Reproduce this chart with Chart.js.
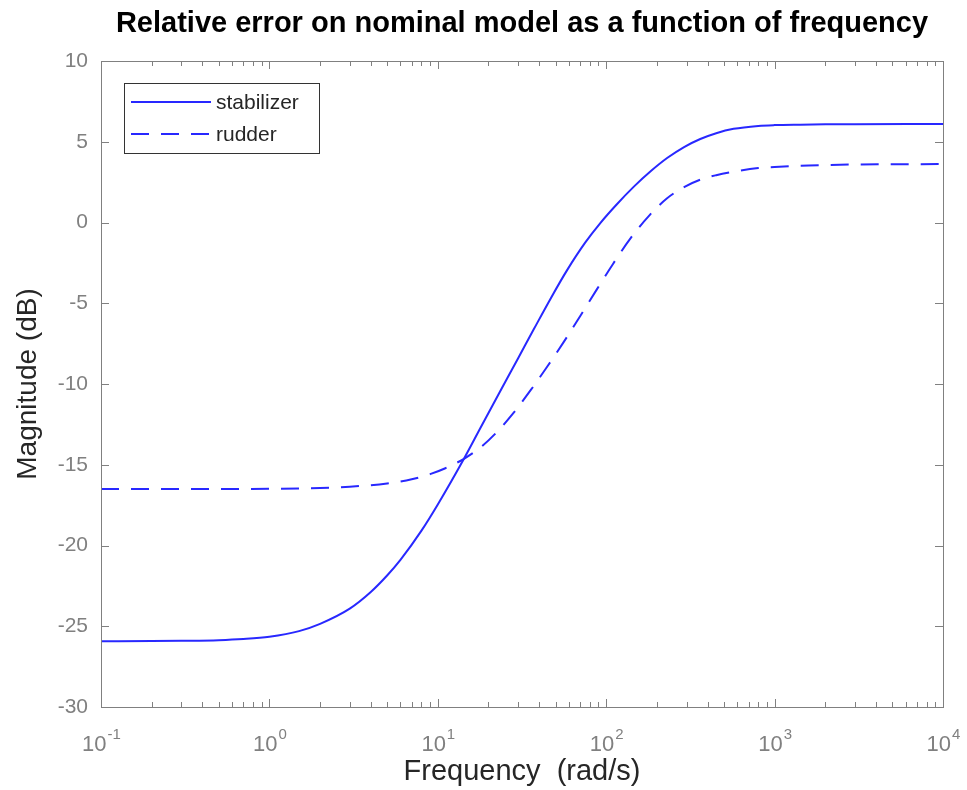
<!DOCTYPE html>
<html>
<head>
    <title>Relative error on nominal model</title>
    <meta charset="utf-8">
    <script src="https://cdn.jsdelivr.net/npm/chart.js"></script>
    <style>
        html, body { margin: 0; padding: 0; background: #fff; }
        .box { width: 967px; height: 790px; }
    </style>
</head>
<body>
<div class="box">
    <canvas id="errChart" width="967" height="790"></canvas>
</div>
<script>
    // values
    const freqStab = [0.1, 0.2, 0.3, 0.5, 0.7, 1, 1.5, 2, 3, 4, 5, 6, 8, 10, 14.3, 18, 23.6, 30, 37.2, 47, 58.6, 75, 92.5, 115, 146, 185, 230, 290, 362, 450, 571, 800, 1000, 1420, 2000, 3000, 10000];
    const magStab  = [-25.93, -25.92, -25.9, -25.86, -25.79, -25.65, -25.3, -24.85, -23.91, -22.88, -21.86, -20.89, -19.08, -17.46, -14.63, -12.68, -10.4, -8.4, -6.6, -4.67, -2.95, -1.25, -0.02, 1.1, 2.22, 3.2, 3.99, 4.67, 5.17, 5.53, 5.8, 5.98, 6.03, 6.06, 6.08, 6.09, 6.1];

    const freqRud = [0.1, 0.3, 0.5, 1, 2, 3, 5, 7, 9, 11, 14.3, 18, 22.5, 28, 35.5, 45, 56, 70, 88, 110, 139, 180, 230, 290, 362, 450, 571, 800, 1000, 1420, 2000, 3000, 10000];
    const magRud  = [-16.5, -16.5, -16.5, -16.49, -16.44, -16.36, -16.16, -15.9, -15.58, -15.23, -14.63, -13.91, -12.96, -11.82, -10.4, -8.87, -7.39, -5.8, -4.14, -2.55, -1.0, 0.43, 1.5, 2.19, 2.65, 2.93, 3.15, 3.37, 3.44, 3.52, 3.56, 3.59, 3.62];

    const seriesNames = ['stabilizer', 'rudder'];
    const yTicks = [-30, -25, -20, -15, -10, -5, 0, 5, 10];
    const xDecades = [0.1, 1, 10, 100, 1000, 10000];
    const xExponents = ['-1', '0', '1', '2', '3', '4'];

    const axisGray = '#808080';
    const lineBlue = 'rgb(40, 40, 255)';
    const fontFam = '"Liberation Sans", Arial, sans-serif';

    function toPoints(xs, ys) {
        return xs.map((x, i) => ({ x: x, y: ys[i] }));
    }

    // minor + major log ticks
    function logTicks() {
        const out = [];
        xDecades.forEach((d, i) => {
            if (i === xDecades.length - 1) { out.push({ value: d }); return; }
            for (let k = 1; k <= 9; k++) out.push({ value: +(d * k).toPrecision(3) });
        });
        return out;
    }

    // box, inside tick marks, 10^n labels, title and legend like the original figure
    const matlabAxes = {
        id: 'matlabAxes',
        afterDraw(chart) {
            const ctx = chart.ctx;
            const a = chart.chartArea;
            const xs = chart.scales.x, ys = chart.scales.y;
            ctx.save();
            ctx.strokeStyle = axisGray;
            ctx.lineWidth = 1;
            ctx.beginPath();
            xs.ticks.forEach(t => {
                const px = Math.round(xs.getPixelForValue(t.value)) + 0.5;
                const len = xDecades.includes(t.value) ? 8 : 5;
                ctx.moveTo(px, a.bottom); ctx.lineTo(px, a.bottom - len);
                ctx.moveTo(px, a.top); ctx.lineTo(px, a.top + len);
            });
            ys.ticks.forEach(t => {
                const py = Math.round(ys.getPixelForValue(t.value)) + 0.5;
                ctx.moveTo(a.left, py); ctx.lineTo(a.left + 8, py);
                ctx.moveTo(a.right, py); ctx.lineTo(a.right - 8, py);
            });
            ctx.stroke();
            ctx.strokeRect(Math.round(a.left) + 0.5, Math.round(a.top) + 0.5, Math.round(a.right - a.left), Math.round(a.bottom - a.top));

            // decade labels with raised exponent
            ctx.fillStyle = axisGray;
            ctx.textBaseline = 'alphabetic';
            ctx.textAlign = 'left';
            xDecades.forEach((d, i) => {
                const px = xs.getPixelForValue(d);
                ctx.font = '22px ' + fontFam;
                const wBase = ctx.measureText('10').width;
                ctx.font = '15px ' + fontFam;
                const wExp = ctx.measureText(xExponents[i]).width;
                const x0 = px - (wBase + wExp) / 2;
                ctx.font = '22px ' + fontFam;
                ctx.fillText('10', x0, a.bottom + 44);
                ctx.font = '15px ' + fontFam;
                ctx.fillText(xExponents[i], x0 + wBase + 1, a.bottom + 32);
            });

            // title
            ctx.fillStyle = '#000';
            ctx.font = 'bold 29px ' + fontFam;
            ctx.textAlign = 'center';
            ctx.textBaseline = 'middle';
            ctx.fillText('Relative error on nominal model as a function of frequency', (a.left + a.right) / 2, 24);

            // legend
            const lx = 124, ly = 83, lw = 195, lh = 70;
            ctx.fillStyle = '#fff';
            ctx.fillRect(lx, ly, lw, lh);
            ctx.strokeStyle = '#333';
            ctx.lineWidth = 1;
            ctx.strokeRect(lx + 0.5, ly + 0.5, lw, lh);
            ctx.font = '21px ' + fontFam;
            ctx.textAlign = 'left';
            chart.data.datasets.forEach((ds, i) => {
                const yy = ly + 19 + i * 32;
                ctx.strokeStyle = ds.borderColor;
                ctx.lineWidth = ds.borderWidth;
                ctx.setLineDash(ds.borderDash || []);
                ctx.beginPath();
                ctx.moveTo(lx + 7, yy); ctx.lineTo(lx + 87, yy);
                ctx.stroke();
                ctx.setLineDash([]);
                ctx.fillStyle = '#262626';
                ctx.fillText(ds.label, lx + 92, yy + 1);
            });
            ctx.restore();
        }
    };

    Chart.defaults.font.family = fontFam;

    new Chart(document.getElementById('errChart').getContext('2d'), {
        type: 'line',
        data: {
            datasets: [
                {
                    label: seriesNames[0],
                    data: toPoints(freqStab, magStab),
                    borderColor: lineBlue,
                    borderWidth: 2,
                    pointRadius: 0,
                    cubicInterpolationMode: 'monotone',
                    fill: false
                },
                {
                    label: seriesNames[1],
                    data: toPoints(freqRud, magRud),
                    borderColor: lineBlue,
                    borderWidth: 2,
                    borderDash: [18, 12],
                    pointRadius: 0,
                    cubicInterpolationMode: 'monotone',
                    fill: false
                }
            ]
        },
        options: {
            responsive: false,
            animation: false,
            layout: { padding: { top: 61, right: 24, bottom: 0, left: 0 } },
            plugins: {
                legend: { display: false },
                tooltip: { enabled: false },
                title: { display: false }
            },
            scales: {
                x: {
                    type: 'logarithmic',
                    min: 0.1,
                    max: 10000,
                    afterBuildTicks: scale => { scale.ticks = logTicks(); },
                    afterFit: scale => {
                        scale.height = 83;
                        scale.paddingLeft = 0;
                        scale.paddingRight = 0;
                    },
                    grid: { display: false, drawTicks: false },
                    border: { display: false },
                    ticks: { display: false, autoSkip: false },
                    title: {
                        display: true,
                        text: 'Frequency  (rad/s)',
                        color: '#262626',
                        font: { size: 29 },
                        padding: { top: 0, bottom: 1 }
                    }
                },
                y: {
                    type: 'linear',
                    min: -30,
                    max: 10,
                    afterBuildTicks: scale => { scale.ticks = yTicks.map(v => ({ value: v })); },
                    afterFit: scale => { scale.width = 101; },
                    grid: { display: false, drawTicks: false },
                    border: { display: false },
                    ticks: {
                        padding: 13,
                        color: axisGray,
                        font: { size: 21 }
                    },
                    title: {
                        display: true,
                        text: 'Magnitude (dB)',
                        color: '#262626',
                        font: { size: 28 },
                        padding: { top: 11, bottom: 0 }
                    }
                }
            }
        },
        plugins: [matlabAxes]
    });
</script>
</body>
</html>
